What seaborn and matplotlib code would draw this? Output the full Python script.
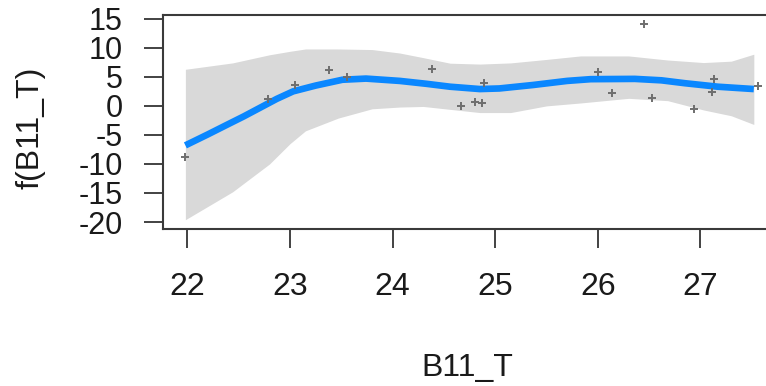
import numpy as np
import pandas as pd
import matplotlib
matplotlib.use("Agg")
import matplotlib.pyplot as plt
import seaborn as sns

# Partial residuals of the smooth term
obs_x = [21.98, 22.79, 23.05, 23.38, 23.56, 24.38, 24.67, 24.80, 24.87, 24.89,
         26.00, 26.14, 26.45, 26.53, 26.94, 27.11, 27.13, 27.56]
obs_y = [-8.84, 1.15, 3.6, 6.25, 4.94, 6.3, 0.0, 0.74, 0.46, 3.9,
         5.9, 2.18, 14.1, 1.43, -0.57, 2.46, 4.6, 3.44]

# Fitted smooth f(B11_T)
fit_x = [21.98, 22.20, 22.38, 22.55, 22.71, 22.87, 23.03, 23.25, 23.51, 23.74,
         24.07, 24.33, 24.56, 24.85, 25.04, 25.37, 25.70, 25.93, 26.36, 26.62,
         26.85, 27.17, 27.52]
fit_y = [-6.8, -4.9, -3.3, -1.8, -0.3, 1.2, 2.5, 3.5, 4.5, 4.7,
         4.3, 3.8, 3.3, 2.9, 3.0, 3.6, 4.3, 4.6, 4.65, 4.4,
         3.9, 3.3, 2.9]

# Confidence band
band_x = [21.98, 22.44, 22.80, 23.00, 23.15, 23.47, 23.80, 24.07, 24.30, 24.56,
          24.85, 25.15, 25.50, 25.83, 26.30, 26.68, 27.03, 27.30, 27.52]
band_upper = [6.3, 7.4, 8.8, 9.4, 9.8, 9.8, 9.7, 9.1, 8.3, 7.35,
              7.2, 7.4, 8.0, 8.6, 8.6, 7.9, 7.46, 7.7, 8.9]
band_lower = [-19.6, -14.8, -10.0, -6.5, -4.3, -2.1, -0.5, -0.2, -0.1, -0.6,
              -1.15, -1.15, 0.0, 0.5, 1.3, 0.9, -0.7, -1.7, -3.2]

x_ticks = [22, 23, 24, 25, 26, 27]
y_ticks = [-20, -15, -10, -5, 0, 5, 10, 15]

sns.set_style("white")
plt.rcParams["font.family"] = ["Liberation Sans", "DejaVu Sans"]

W, H = 766, 386
fig = plt.figure(figsize=(W / 100, H / 100), dpi=100)
left, right, top, bottom = 162.5, 780.8, 15.0, 229.0
ax = fig.add_axes([left / W, 1 - bottom / H, (right - left) / W, (bottom - top) / H])

ax.fill_between(band_x, band_lower, band_upper, color="#d9d9d9", linewidth=0, zorder=1)

fit = pd.DataFrame({"x": fit_x, "y": fit_y})
sns.lineplot(data=fit, x="x", y="y", ax=ax, color="#0a87ff", linewidth=4.8,
             solid_capstyle="butt", zorder=3)

obs = pd.DataFrame({"x": obs_x, "y": obs_y})
sns.scatterplot(data=obs, x="x", y="y", ax=ax, marker="+", color="#6e6e6e",
                s=36, linewidth=1.4, zorder=4)

ax.set_xlim(21.757, 27.783)
ax.set_ylim(-21.2, 15.65)
ax.set_xticks(x_ticks)
ax.set_xticklabels([str(t) for t in x_ticks])
ax.set_yticks(y_ticks)
ax.set_yticklabels([str(t) for t in y_ticks])

for side, sp in ax.spines.items():
    sp.set_visible(True)
    sp.set_color("#3a3a3a")
    sp.set_linewidth(1.5)

ax.tick_params(axis="both", direction="out", length=13.7, width=1.2,
               color="#222222", labelsize=22, labelcolor="#1a1a1a",
               bottom=True, left=True, top=False, right=False)
ax.tick_params(axis="x", pad=17, labelsize=23)
ax.tick_params(axis="y", pad=15)
ax.set_xlabel("")
ax.set_ylabel("")

fig.text(467.5 / W, 1 - 376 / H, "B11_T", ha="center", va="baseline",
         fontsize=23, color="#1a1a1a")
fig.text(31 / W, 1 - 128 / H, "f(B11_T)", ha="center", va="center",
         rotation=90, fontsize=23, color="#1a1a1a")

fig.savefig("out.png", dpi=100, facecolor="white")
